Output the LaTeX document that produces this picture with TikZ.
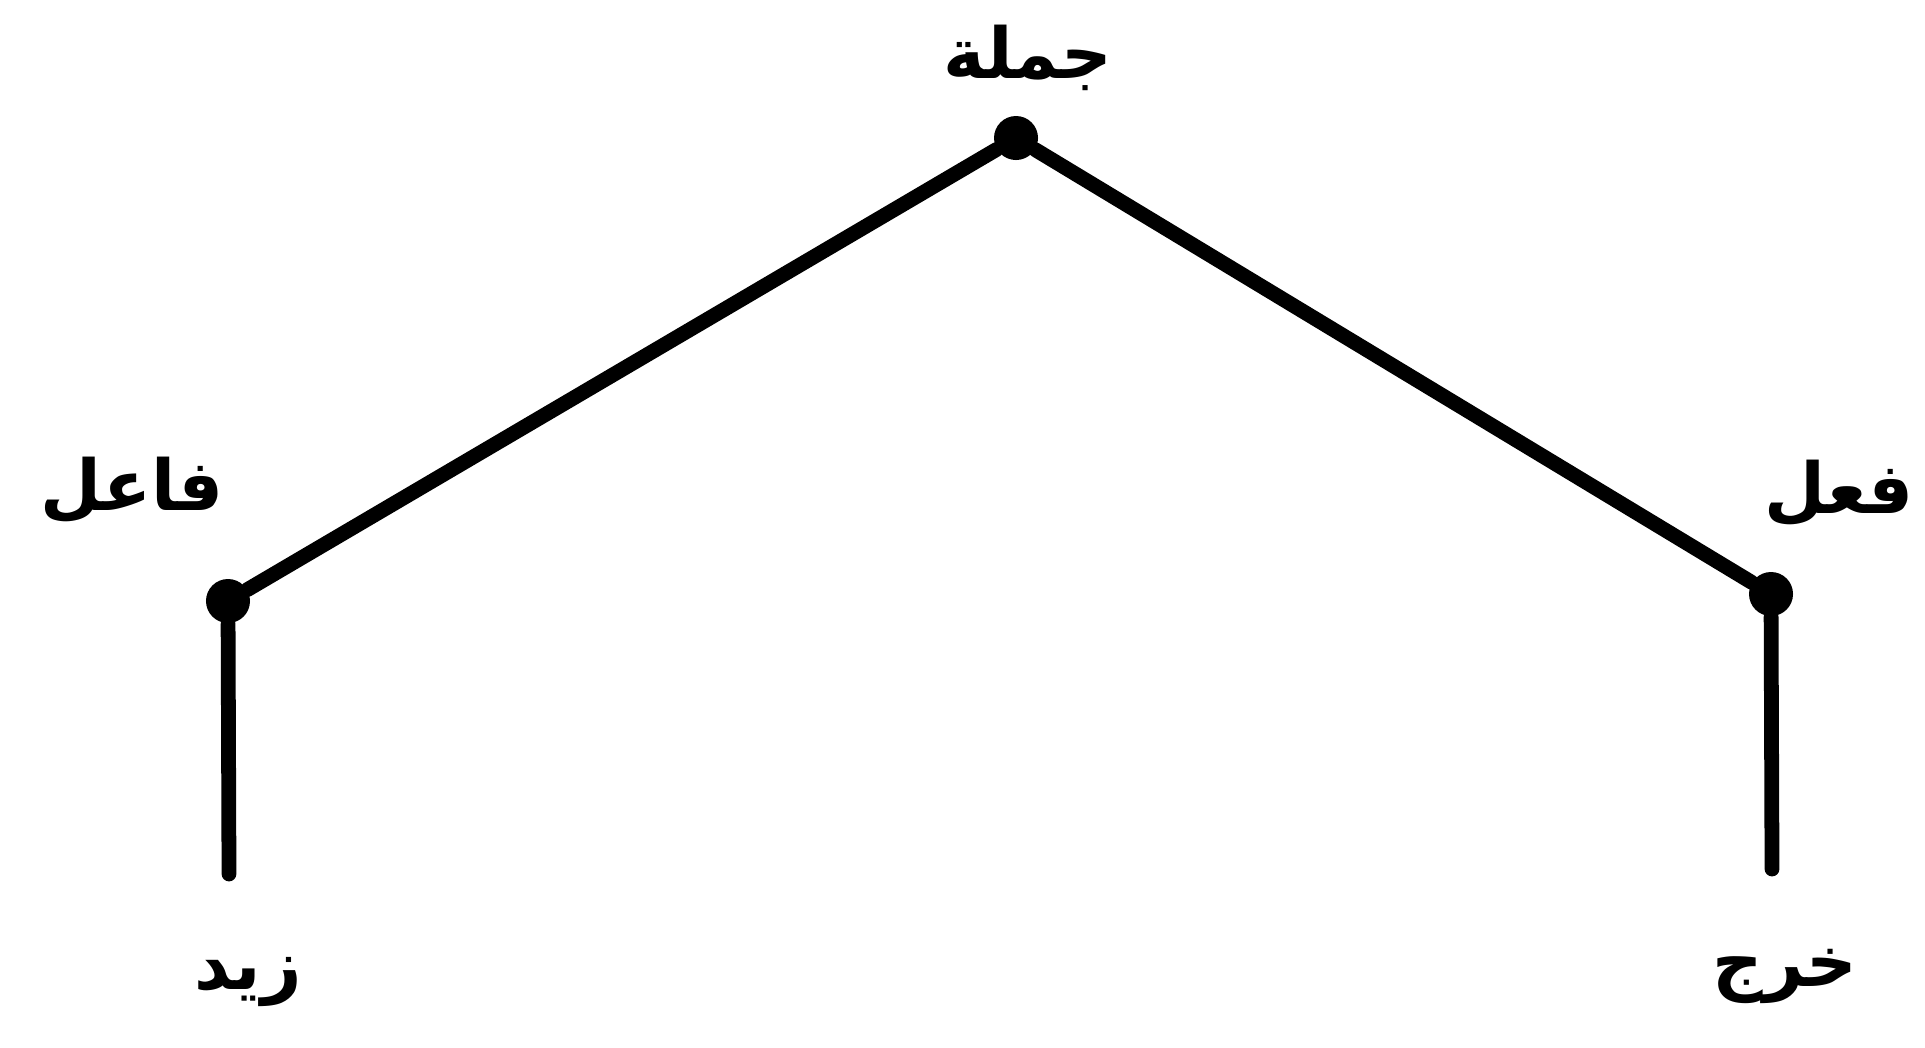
\documentclass[tikz,border=0pt]{standalone}
\usepackage{fontspec}
\newfontfamily\arabicfont[Script=Arabic]{DejaVu Sans}
\TeXXeTstate=1
\begin{document}
\begin{tikzpicture}[x=0.01cm,y=-0.01cm,
  dot/.style={circle,fill=black,inner sep=0pt,minimum size=0.44cm},
  edge/.style={line width=4.2pt,line cap=round},
  lbl/.style={font=\arabicfont\bfseries\fontsize{20}{24}\selectfont,inner sep=0pt}]
\useasboundingbox (0,0) rectangle (1925,1047);
\node[dot] (s) at (1016,138) {};
\node[dot] (l) at (228,601) {};
\node[dot] (r) at (1771,594) {};
\coordinate (lb) at (229,874);
\coordinate (rb) at (1772,869);
\draw[edge] (s) -- (l);
\draw[edge] (s) -- (r);
\draw[edge] (l) -- (lb);
\draw[edge] (r) -- (rb);
\node[lbl] (ts) at (1028,58) {\beginR جملة\endR};
\node[lbl,anchor=west] (tl) at (40,490) {\beginR فاعل\endR};
\node[lbl,anchor=east] (tr) at (1914,493) {\beginR فعل\endR};
\node[lbl] (tlb) at (248,982) {\beginR زيد\endR};
\node[lbl] (trb) at (1785,976) {\beginR خرج\endR};
\end{tikzpicture}
\end{document}
